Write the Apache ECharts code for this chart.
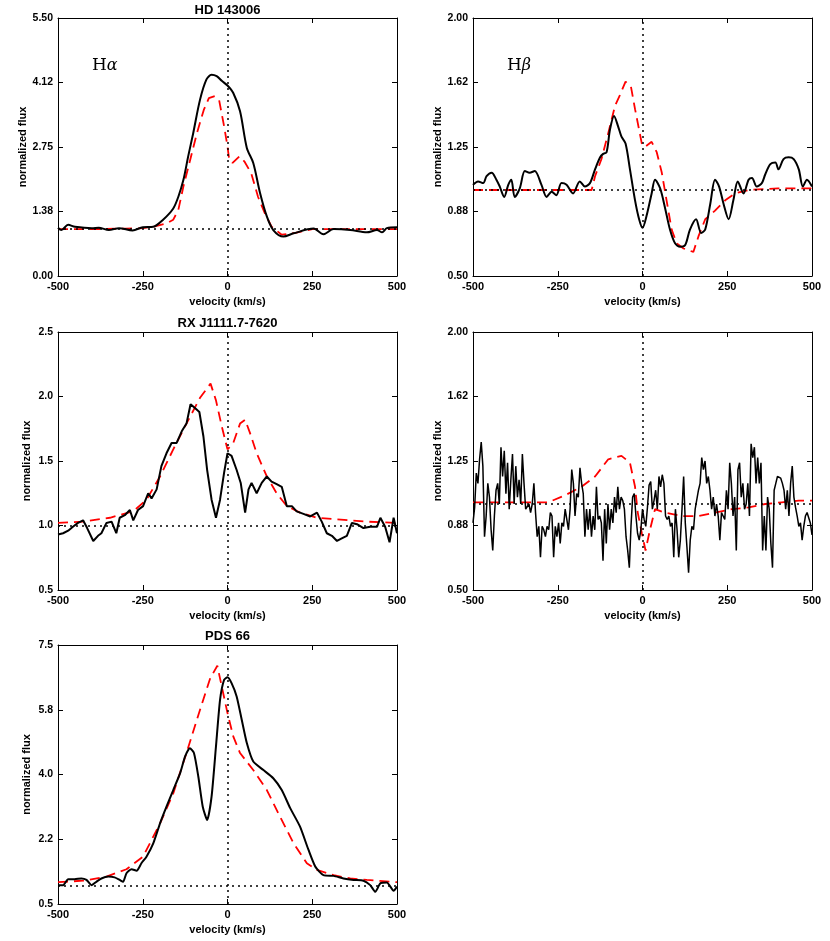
<!DOCTYPE html>
<html>
<head>
<meta charset="utf-8">
<script src="https://cdn.jsdelivr.net/npm/echarts@6.0.0/dist/echarts.min.js"></script>
<style>
  html, body { margin: 0; padding: 0; background: #fff; }
  #chart { width: 830px; height: 941px; }
</style>
</head>
<body>
<div id="chart"></div>
<script>
// velocity axis, shared by all panels
const velTicks = [-500, -250, 0, 250, 500];

// HD 143006, H alpha
const hdHaObsVel = [-500,-490,-470,-450,-400,-380,-350,-320,-280,-250,-219,-190,-160,-145,-130,-116,-101,-81,-62,-47,-32,-17,0,17,37,57,76,96,116,135,165,195,254,283,313,362,411,441,456,470,500];
const hdHaObsFlux = [1.03,0.98,1.09,1.05,1.02,1.03,0.98,1.02,0.97,1.04,1.05,1.20,1.44,1.69,2.05,2.55,3.05,3.76,4.19,4.29,4.26,4.16,4.06,3.90,3.51,2.73,2.41,1.77,1.27,0.98,0.84,0.91,1.01,0.89,1.00,0.98,0.93,0.98,0.93,1.02,1.04];
const hdHaModVel = [-500,-400,-300,-250,-220,-180,-160,-145,-130,-110,-90,-70,-55,-40,-25,-10,0,5,15,35,50,70,90,110,130,160,200,250,300,400,500];
const hdHaModFlux = [1.00,1.00,1.01,1.02,1.05,1.12,1.20,1.41,1.91,2.48,3.05,3.54,3.79,3.83,3.76,3.19,2.76,2.48,2.41,2.55,2.44,2.19,1.69,1.34,1.05,0.88,0.92,1.00,1.00,1.00,1.00];
const hdHaTicks = [0, 1.375, 2.75, 4.125, 5.5];
const hdHaTickLabels = ['0.00', '1.38', '2.75', '4.12', '5.50'];

// HD 143006, H beta
const hdHbObsVel = [-500,-485,-470,-460,-445,-431,-421,-408,-396,-387,-377,-362,-347,-333,-318,-298,-283,-268,-254,-239,-224,-205,-185,-170,-155,-140,-125,-116,-106,-96,-84,-72,-62,-50,-37,-22,-10,0,12,27,37,52,66,81,96,111,126,140,158,173,185,200,214,226,239,254,268,281,298,313,323,337,352,362,377,392,401,416,431,446,461,473,485,500];
const hdHbObsFlux = [1.03,1.05,1.04,1.08,1.10,1.06,1.02,0.96,1.03,1.06,0.96,1.01,1.11,1.10,1.11,1.03,0.96,0.99,0.97,1.04,1.03,0.98,1.05,1.02,1.04,1.12,1.19,1.21,1.22,1.35,1.43,1.37,1.31,1.27,1.12,0.94,0.83,0.78,0.85,0.98,1.06,1.01,0.90,0.77,0.69,0.67,0.68,0.77,0.83,0.75,0.77,0.92,1.06,1.02,0.92,0.83,0.94,1.05,0.98,1.06,1.07,1.02,1.04,1.09,1.15,1.16,1.12,1.18,1.19,1.18,1.12,1.02,1.06,1.02];
const hdHbModVel = [-500,-300,-150,-140,-121,-101,-81,-67,-50,-34,-22,-10,-2,7,27,42,57,71,86,101,121,150,165,185,214,244,273,313,400,500];
const hdHbModFlux = [1.00,1.00,1.00,1.08,1.18,1.33,1.49,1.55,1.63,1.60,1.47,1.35,1.27,1.25,1.28,1.22,1.10,0.94,0.77,0.69,0.66,0.64,0.73,0.83,0.88,0.94,0.98,1.00,1.01,1.01];
const hbTicks = [0.5, 0.875, 1.25, 1.625, 2.0];
const hbTickLabels = ['0.50', '0.88', '1.25', '1.62', '2.00'];

// RX J1111.7-7620, H alpha
const rxHaObsVel = [-500,-485,-470,-456,-441,-426,-414,-396,-382,-372,-357,-342,-328,-318,-303,-288,-278,-264,-249,-234,-224,-209,-195,-180,-165,-150,-135,-121,-109,-96,-83,-71,-60,-47,-34,-22,-10,0,12,27,39,52,62,71,86,101,116,130,145,160,175,190,204,224,244,264,278,293,308,323,337,352,367,382,401,421,441,451,465,478,490,500];
const rxHaObsFlux = [0.93,0.94,0.96,0.99,1.02,1.04,0.98,0.88,0.92,0.94,1.02,1.03,0.94,1.06,1.08,1.12,1.04,1.12,1.15,1.25,1.21,1.28,1.46,1.56,1.64,1.64,1.73,1.79,1.94,1.91,1.88,1.69,1.43,1.20,1.06,1.20,1.41,1.56,1.54,1.43,1.33,1.10,1.28,1.33,1.25,1.33,1.38,1.34,1.32,1.30,1.15,1.15,1.11,1.09,1.07,1.10,1.03,0.94,0.92,0.88,0.90,0.92,1.02,1.01,0.98,0.99,0.99,1.06,0.99,0.87,1.06,0.94];
const rxHaModVel = [-500,-426,-347,-278,-239,-199,-160,-121,-81,-50,-34,-17,0,17,37,52,66,86,116,145,175,214,264,313,411,500];
const rxHaModFlux = [1.02,1.03,1.06,1.11,1.20,1.38,1.59,1.79,1.99,2.10,1.97,1.77,1.59,1.64,1.79,1.82,1.72,1.56,1.38,1.25,1.15,1.10,1.06,1.05,1.03,1.02];
const rxHaTicks = [0.5, 1.0, 1.5, 2.0, 2.5];
const rxHaTickLabels = ['0.5', '1.0', '1.5', '2.0', '2.5'];

// RX J1111.7-7620, H beta (evenly sampled from -500 to 500)
const rxHbObsFlux = [0.89,0.98,1.18,1.12,1.26,1.36,1.22,0.81,0.93,1.12,1.04,0.85,0.73,0.93,1.08,1.12,1.00,1.33,1.16,1.31,1.06,1.24,0.97,1.14,1.29,1.00,1.22,1.04,1.14,1.00,1.29,1.12,0.97,0.97,1.00,0.95,1.00,1.12,0.95,0.81,0.87,0.69,0.87,0.85,0.81,0.87,0.85,0.95,0.93,0.69,0.87,0.81,0.89,0.77,0.89,0.87,0.97,0.91,0.85,0.97,1.20,1.12,0.93,1.06,1.04,1.21,1.12,1.06,0.81,0.97,0.85,0.97,0.81,0.93,0.85,1.10,0.91,0.93,0.89,0.67,0.97,0.77,1.00,0.85,0.97,0.89,1.04,0.95,1.10,0.97,1.04,1.02,0.97,0.81,0.73,0.63,0.87,1.04,1.06,0.93,0.83,0.79,0.85,0.97,0.91,0.87,0.98,1.11,1.13,0.97,1.02,1.08,0.97,1.16,1.10,1.17,1.12,0.93,0.91,0.93,0.87,0.89,0.69,0.97,0.85,0.69,0.79,0.97,1.16,0.89,0.75,0.60,0.79,0.87,0.85,0.97,0.98,1.08,1.12,1.27,1.20,1.25,1.12,1.16,1.08,0.97,1.04,0.93,1.00,0.93,0.79,0.95,0.93,0.91,1.08,0.97,1.24,1.12,0.93,1.04,0.73,1.20,1.24,1.04,1.12,0.97,1.00,1.12,0.93,1.35,1.27,1.33,1.12,1.27,1.12,1.24,0.73,0.93,0.73,1.04,0.97,0.77,0.63,1.08,1.12,1.16,1.17,1.15,1.12,1.08,0.97,1.08,0.93,1.12,1.22,1.04,0.98,0.93,0.87,0.89,0.79,0.87,0.93,0.95,0.96,0.89,0.82];
const rxHbModVel = [-500,-328,-278,-229,-180,-140,-101,-62,-37,-22,-14,-2,9,22,37,66,116,165,214,264,313,362,411,461,500];
const rxHbModFlux = [1.01,1.01,1.01,1.05,1.10,1.16,1.26,1.28,1.24,1.10,0.95,0.83,0.73,0.85,0.97,0.95,0.93,0.93,0.95,0.97,0.98,1.00,1.01,1.02,1.02];

// PDS 66, H alpha
const pdsHaObsVel = [-500,-485,-470,-451,-431,-416,-401,-387,-372,-352,-333,-318,-308,-298,-283,-268,-254,-239,-219,-199,-180,-160,-140,-125,-111,-99,-86,-73,-60,-47,-34,-22,-10,0,12,27,42,57,76,106,135,160,185,214,239,259,283,313,342,372,401,421,436,451,470,490,500];
const pdsHaObsFlux = [1.01,1.01,1.17,1.17,1.19,1.15,1.01,1.10,1.19,1.24,1.22,1.15,1.10,1.33,1.44,1.40,1.60,1.78,2.14,2.68,3.13,3.58,4.03,4.49,4.71,4.58,3.94,3.13,2.77,3.40,4.76,6.02,6.56,6.63,6.47,6.11,5.48,4.85,4.35,4.12,3.90,3.58,3.09,2.59,1.96,1.51,1.28,1.26,1.19,1.15,1.13,1.01,0.83,1.06,1.08,0.86,0.97];
const pdsHaModVel = [-500,-426,-357,-298,-249,-199,-160,-121,-81,-51,-30,-17,0,17,37,76,116,155,195,234,264,313,362,411,500];
const pdsHaModFlux = [1.09,1.13,1.24,1.44,1.78,2.68,3.49,4.58,5.75,6.60,6.94,6.38,5.66,5.03,4.58,4.12,3.58,2.86,2.14,1.60,1.42,1.28,1.19,1.15,1.09];
const pdsHaTicks = [0.5, 2.25, 4.0, 5.75, 7.5];
const pdsHaTickLabels = ['0.5', '2.2', '4.0', '5.8', '7.5'];

const zip = (xs, ys) => ys.map((y, i) => [xs[i], y]);
const evenVel = (ys) => ys.map((_, i) => -500 + i * 1000 / (ys.length - 1));

const panels = [
  { left: 58,  top: 18,  height: 258, ticks: hdHaTicks, labels: hdHaTickLabels,
    obs: zip(hdHaObsVel, hdHaObsFlux), mod: zip(hdHaModVel, hdHaModFlux), smooth: 0.3 },
  { left: 473, top: 18,  height: 258, ticks: hbTicks, labels: hbTickLabels,
    obs: zip(hdHbObsVel, hdHbObsFlux), mod: zip(hdHbModVel, hdHbModFlux), smooth: 0.3 },
  { left: 58,  top: 332, height: 258, ticks: rxHaTicks, labels: rxHaTickLabels,
    obs: zip(rxHaObsVel, rxHaObsFlux), mod: zip(rxHaModVel, rxHaModFlux), smooth: false },
  { left: 473, top: 332, height: 258, ticks: hbTicks, labels: hbTickLabels,
    obs: zip(evenVel(rxHbObsFlux), rxHbObsFlux), mod: zip(rxHbModVel, rxHbModFlux), smooth: false },
  { left: 58,  top: 645, height: 259, ticks: pdsHaTicks, labels: pdsHaTickLabels,
    obs: zip(pdsHaObsVel, pdsHaObsFlux), mod: zip(pdsHaModVel, pdsHaModFlux), smooth: 0.2 }
];

const font = '"Liberation Sans", Arial, sans-serif';
const grid = [], xAxis = [], yAxis = [], series = [];

panels.forEach((p, i) => {
  grid.push({ left: p.left, top: p.top, width: 339, height: p.height });
  const line = { show: true, onZero: false, lineStyle: { color: '#000', width: 1 } };
  const tick = { show: true, inside: true, length: 5, lineStyle: { color: '#000', width: 1 } };
  // bottom / top velocity axes
  xAxis.push({
    type: 'value', gridIndex: i, min: -500, max: 500, interval: 250,
    axisLine: line, axisTick: tick, splitLine: { show: false },
    axisLabel: { color: '#000', fontFamily: font, fontWeight: 'bold', fontSize: 11, margin: 5,
      formatter: v => velTicks.includes(v) ? String(v) : '' },
    name: 'velocity (km/s)', nameLocation: 'middle', nameGap: 20,
    nameTextStyle: { color: '#000', fontFamily: font, fontWeight: 'bold', fontSize: 11 }
  });
  xAxis.push({
    type: 'value', gridIndex: i, position: 'top', min: -500, max: 500, interval: 250,
    axisLine: line, axisTick: tick, axisLabel: { show: false }, splitLine: { show: false }
  });
  // left / right flux axes
  const lo = p.ticks[0], hi = p.ticks[p.ticks.length - 1];
  yAxis.push({
    type: 'value', gridIndex: i, min: lo, max: hi,
    axisLine: line, axisTick: Object.assign({ customValues: p.ticks }, tick), splitLine: { show: false },
    axisLabel: { customValues: p.ticks, color: '#000', fontFamily: font, fontWeight: 'bold', fontSize: 10.5, margin: 5,
      formatter: v => p.labels[p.ticks.findIndex(t => Math.abs(t - v) < 1e-6)] || '' },
    name: 'normalized flux', nameLocation: 'middle', nameGap: 26,
    nameTextStyle: { color: '#000', fontFamily: font, fontWeight: 'bold', fontSize: 11 }
  });
  yAxis.push({
    type: 'value', gridIndex: i, position: 'right', min: lo, max: hi,
    axisLine: line, axisTick: Object.assign({ customValues: p.ticks }, tick),
    axisLabel: { show: false }, splitLine: { show: false }
  });

  series.push({
    type: 'line', xAxisIndex: 2 * i, yAxisIndex: 2 * i, data: p.mod,
    showSymbol: false, smooth: false, z: 2,
    lineStyle: { color: '#ff0000', width: 1.8, type: [10, 6] },
    markLine: {
      silent: true, symbol: ['none', 'none'], label: { show: false }, animation: false,
      lineStyle: { color: '#000', width: 1.5, type: [2, 4] },
      data: [{ xAxis: 0 }, { yAxis: 1 }]
    }
  });
  series.push({
    type: 'line', xAxisIndex: 2 * i, yAxisIndex: 2 * i, data: p.obs,
    showSymbol: false, smooth: p.smooth, z: 3,
    lineStyle: { color: '#000', width: i === 3 ? 1.5 : 2 }
  });
});

const titleStyle = (x, y, text) => ({
  type: 'text', x: x, y: y,
  style: { text: text, fill: '#000', font: 'bold 13px ' + font, textAlign: 'center', textVerticalAlign: 'middle' }
});
const lineLabel = (x, y, greek) => ({
  type: 'text', x: x, y: y,
  style: {
    text: '{h|H}{g|' + greek + '}', textVerticalAlign: 'middle',
    rich: {
      h: { fontFamily: '"DejaVu Serif", serif', fontSize: 17, fill: '#000' },
      g: { fontFamily: '"DejaVu Serif", serif', fontSize: 16, fontStyle: 'italic', fill: '#000' }
    }
  }
});

const chart = echarts.init(document.getElementById('chart'));
chart.setOption({
  animation: false,
  backgroundColor: '#fff',
  grid: grid,
  xAxis: xAxis,
  yAxis: yAxis,
  series: series,
  graphic: [
    titleStyle(227.5, 10, 'HD 143006'),
    titleStyle(227.5, 323, 'RX J1111.7-7620'),
    titleStyle(227.5, 636, 'PDS 66'),
    lineLabel(92, 66, 'α'),
    lineLabel(507, 66, 'β')
  ]
});
</script>
</body>
</html>
